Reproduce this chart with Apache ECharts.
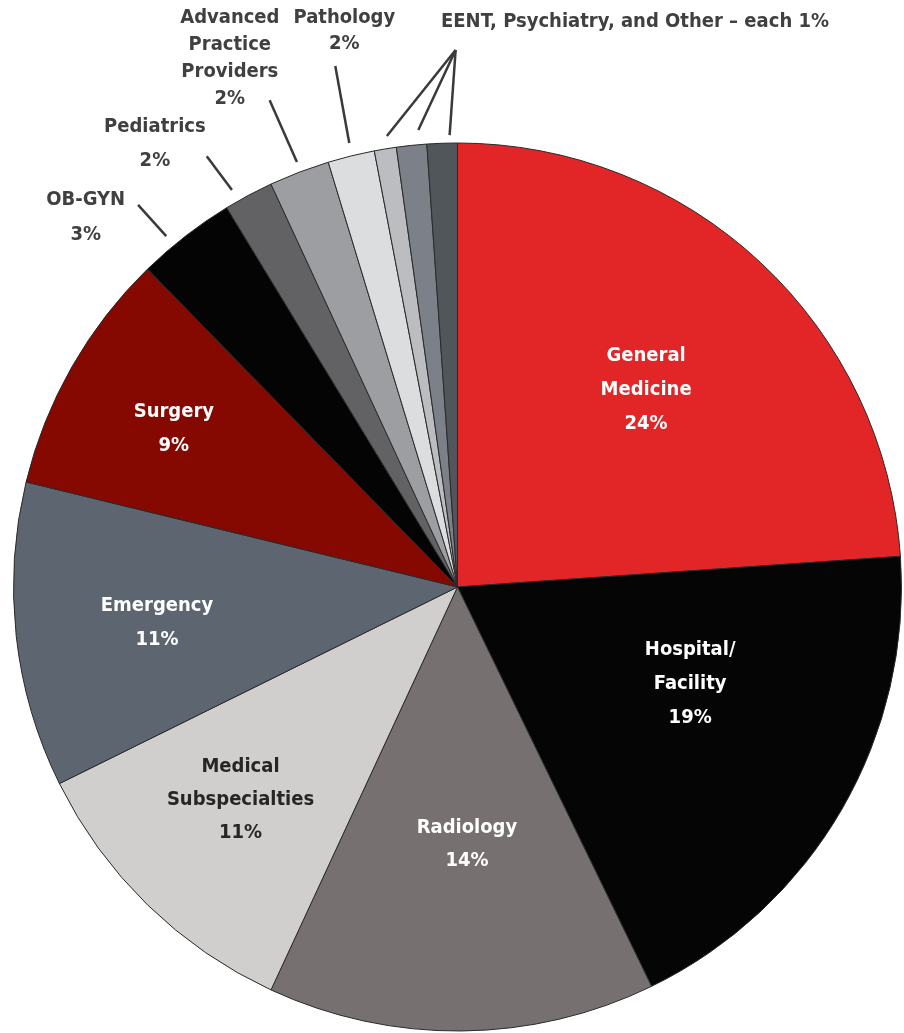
<!DOCTYPE html>
<html>
<head>
<meta charset="utf-8">
<script src="https://cdn.jsdelivr.net/npm/echarts@6/dist/echarts.min.js"></script>
<style>
html,body{margin:0;padding:0;background:#ffffff;}
#chart{width:904px;height:1033px;}
</style>
</head>
<body>
<div id="chart"></div>
<script>
// ---- data ----
const categories = ['General Medicine', 'Hospital/Facility', 'Radiology', 'Medical Subspecialties', 'Emergency', 'Surgery', 'OB-GYN', 'Pediatrics', 'Advanced Practice Providers', 'Pathology', 'EENT', 'Psychiatry', 'Other'];
const labelNames = ['General\nMedicine', 'Hospital/\nFacility', 'Radiology', 'Medical\nSubspecialties', 'Emergency', 'Surgery', 'OB-GYN', 'Pediatrics', 'Advanced\nPractice\nProviders', 'Pathology', '', '', ''];
const shares = [23.9, 18.9, 14.1, 10.8, 11.1, 8.9, 3.6, 1.8, 2.2, 1.7, 0.8, 1.1, 1.1];
const shownPct = [24, 19, 14, 11, 11, 9, 3, 2, 2, 2, 1, 1, 1];
const groupNote = 'EENT, Psychiatry, and Other \u2013 each 1%';

// ---- styles ----
const colors = ['#e22527', '#050505', '#767170', '#d0cfcd', '#5d6670', '#850801', '#040404', '#626264', '#9d9ea1', '#dcdddf', '#bcbdc0', '#7b8089', '#51565a'];
const insideText = ['#ffffff', '#ffffff', '#ffffff', '#262626', '#ffffff', '#ffffff'];
const FONT = "'Liberation Sans Narrow','Arial Narrow','DejaVu Sans Condensed',sans-serif";
const FS = 20;
const CX = 457.5, CY = 587, R = 444;
// label placement: [angle clockwise from 12 o'clock (deg), distance from centre (px)]
const labelPolar = [[43.7, 273], [112.6, 252], [177.9, 257], [225.6, 303.7], [263.2, 302.6], [299.1, 324.6],
  [314.8, 524], [325.7, 537], [336.7, 575.6], [348.5, 567.4], [359.8, 537], [359.8, 537], [359.8, 537]];
// leader lines: [outer angle, outer radius, inner angle, inner radius]
const leaderPolar = [null, null, null, null, null, null,
  [320.1, 498, 320.3, 456], [329.8, 498.5, 330.4, 456.6], [338.9, 521.8, 339.3, 454.3], [346.8, 535.2, 346.3, 457],
  [359.8, 537, 351.1, 456.5], [359.8, 537, 355.1, 458.7], [359.8, 537, 359.0, 452]];
const lineHeights = [34, 34, 33, 33, 34, 34, 35, 34, 27, 26, 10, 10, 10];

function polar(a, d) {
  const rad = a * Math.PI / 180;
  return [CX + d * Math.sin(rad), CY - d * Math.cos(rad)];
}

const data = categories.map(function (name, i) {
  const inside = i < 6;
  const grouped = i >= 10;
  return {
    name: name,
    value: shares[i],
    itemStyle: { color: colors[i] },
    label: {
      position: inside ? 'inside' : 'outside',
      color: inside ? insideText[i] : '#404040',
      lineHeight: lineHeights[i],
      fontSize: grouped ? 1 : FS,
      formatter: grouped ? ' ' : labelNames[i] + '\n' + shownPct[i] + '%'
    },
    labelLine: { show: !inside }
  };
});

const chart = echarts.init(document.getElementById('chart'), null, { renderer: 'canvas' });
chart.setOption({
  animation: false,
  backgroundColor: '#ffffff',
  title: {
    text: groupNote,
    left: 436,
    top: 7,
    textStyle: { fontFamily: FONT, fontWeight: 'bold', fontSize: FS, color: '#404040' }
  },
  series: [{
    type: 'pie',
    center: [CX, CY],
    radius: R,
    startAngle: 90,
    clockwise: true,
    avoidLabelOverlap: false,
    itemStyle: { borderColor: '#2a2a2a', borderWidth: 1 },
    emphasis: { disabled: true },
    label: {
      show: true,
      fontFamily: FONT,
      fontWeight: 'bold',
      fontSize: FS
    },
    labelLine: {
      length: 20,
      length2: 0,
      smooth: false,
      lineStyle: { color: '#3a3a3a', width: 2.5, cap: 'butt' }
    },
    labelLayout: function (p) {
      const i = p.dataIndex;
      const pos = polar(labelPolar[i][0], labelPolar[i][1]);
      const out = { x: pos[0], y: pos[1], align: 'center', verticalAlign: 'middle' };
      const lp = leaderPolar[i];
      if (lp) {
        const a = polar(lp[2], lp[3]);
        const b = polar(lp[0], lp[1]);
        out.labelLinePoints = [a, b, b];
      }
      return out;
    },
    data: data
  }]
});
</script>
</body>
</html>
